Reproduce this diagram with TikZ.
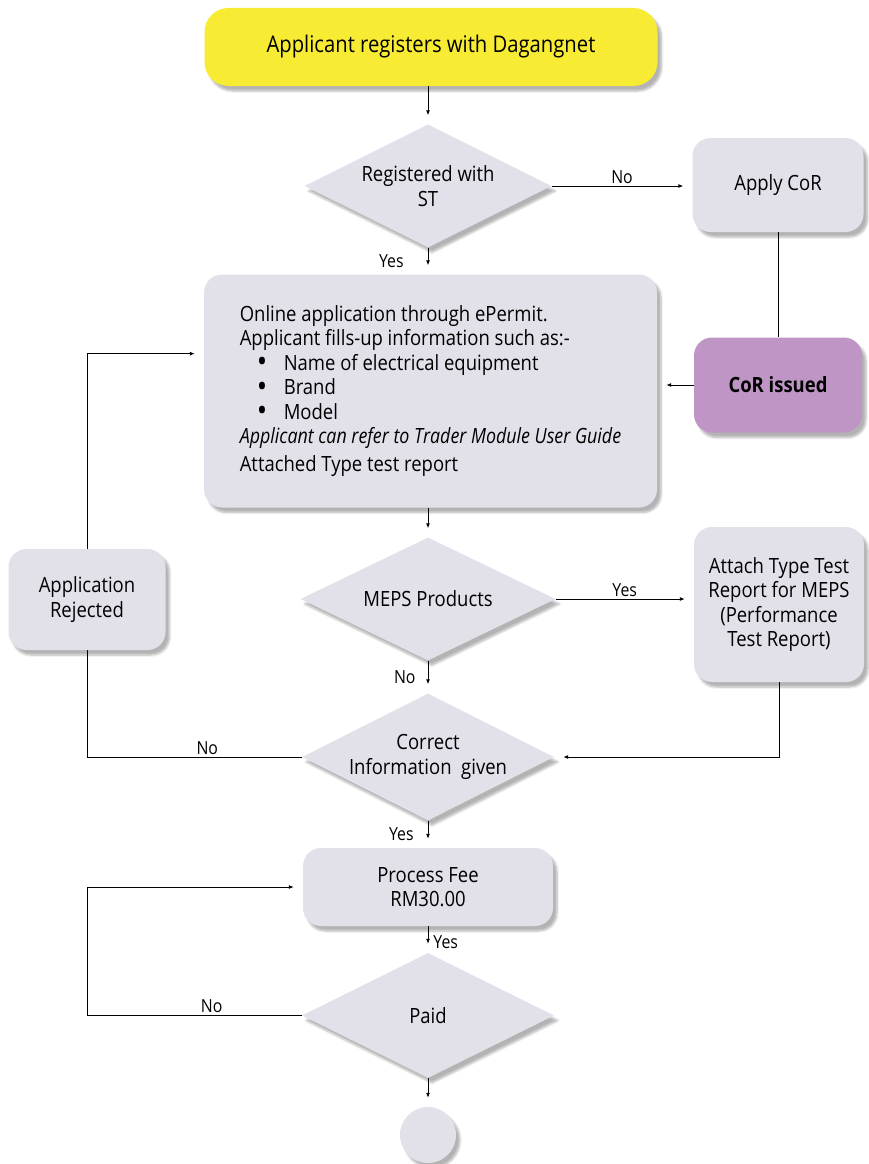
\documentclass[tikz,border=0pt]{standalone}
\usepackage{fontspec}
\setmainfont[FakeStretch=0.88,ItalicFeatures={FakeStretch=0.85}]{Open Sans}
\usetikzlibrary{positioning,calc,shapes.geometric,shadows.blur,arrows.meta}
\definecolor{boxgray}{RGB}{226,225,234}
\definecolor{startyellow}{RGB}{247,235,52}
\definecolor{corpurple}{RGB}{191,149,198}
\newcommand{\bul}{\hspace*{17pt}\makebox[27pt][l]{\raisebox{-2.5pt}[0pt][0pt]{\scalebox{1.5}{\textbullet}}}}

\begin{document}
\begin{tikzpicture}[x=1pt,y=-1pt,
	softshadow/.style={
		blur shadow={shadow xshift=4pt,shadow yshift=-5pt,shadow blur steps=6,shadow opacity=30}
	},
	procbox/.style={
		rectangle, rounded corners=18pt, fill=boxgray, align=center,
		font=\fontsize{21}{24.5}\selectfont, inner sep=0pt, softshadow
	},
	decision/.style={
		diamond, aspect=2, fill=boxgray, align=center,
		font=\fontsize{21}{24.5}\selectfont, inner sep=0pt, softshadow
	},
	flowarrow/.style={-{Latex[length=5pt,width=4pt]}, line width=0.9pt, shorten >=9pt},
	flowline/.style={line width=0.9pt},
	lbl/.style={font=\fontsize{18}{20}\selectfont, inner sep=2pt}
]
	\useasboundingbox (0,0) rectangle (868,1164);

	% boxes and decisions
	\node[procbox, fill=startyellow, rounded corners=24pt, font=\fontsize{23}{26}\selectfont,
		minimum width=453pt, minimum height=78pt] (start) at (431,47) {Applicant registers with Dagangnet};
	\node[decision, minimum width=247pt, minimum height=123pt] (regst) at (428,186) {Registered with\\ST};
	\node[procbox, minimum width=171pt, minimum height=94pt] (applycor) at (778,185) {Apply CoR};
	\node[procbox, fill=corpurple, font=\fontsize{21}{24.5}\selectfont\bfseries,
		minimum width=168pt, minimum height=95pt] (corissued) at (778,385) {CoR issued};
	\node[procbox, align=left, minimum width=453pt, minimum height=233pt] (online) at (430.5,391) {%
		Online application through ePermit.\\
		Applicant fills-up information such as:-\\
		\bul Name of electrical equipment\\
		\bul Brand\\
		\bul Model\\
		\textit{Applicant can refer to Trader Module User Guide}\\[3pt]
		Attached Type test report};
	\node[decision, minimum width=255pt, minimum height=123pt] (meps) at (428,599) {MEPS Products};
	\node[procbox, minimum width=170pt, minimum height=155pt] (attach) at (779,604.5) {Attach Type Test\\Report for MEPS\\(Performance\\Test Report)};
	\node[decision, minimum width=252pt, minimum height=127pt] (correct) at (428,757) {Correct\\Information\ \ given};
	\node[procbox, minimum width=157pt, minimum height=101pt] (rejected) at (87,599.5) {Application\\Rejected};
	\node[procbox, minimum width=250pt, minimum height=78pt] (fee) at (428,887) {Process Fee\\RM30.00};
	\node[decision, minimum width=252pt, minimum height=125pt] (paid) at (428,1015.5) {Paid};
	\node[circle, fill=boxgray, minimum size=56pt, softshadow] (finish) at (428,1135) {};

	% connectors
	\draw[flowarrow] (regst.north |- start.south) -- (regst.north);
	\draw[flowarrow] (regst.east) -- node[lbl, above] {No} (regst.east -| applycor.west);
	\draw[flowarrow] (regst.south) -- node[lbl, left=22pt] {Yes} (regst.south |- online.north);
	\draw[flowline] (applycor.south) -- (corissued.north);
	\draw[flowarrow] (corissued.west) -- (corissued.west -| online.east);
	\draw[flowarrow] (meps.north |- online.south) -- (meps.north);
	\draw[flowarrow] (meps.east) -- node[lbl, above] {Yes} (meps.east -| attach.west);
	\draw[flowarrow] (meps.south) -- node[lbl, left=10pt] {No} (correct.north);
	\draw[flowarrow] (attach.south) |- (correct.east);
	\draw[flowline] (correct.west) -| node[lbl, above, pos=0.22] {No} (rejected.south);
	\draw[flowarrow] (rejected.north) |- ($(online.north west)!0.34!(online.south west)$);
	\draw[flowarrow] (correct.south) -- node[lbl, left=12pt] {Yes} (fee.north);
	\draw[flowarrow] (fee.south) -- node[lbl, right=3pt, pos=0.6] {Yes} (paid.north);
	\draw[flowarrow] (paid.west) -- node[lbl, above, pos=0.42] {No} (paid.west -| rejected.south) |- (fee.west);
	\draw[flowarrow] (paid.south) -- (finish.north);
\end{tikzpicture}
\end{document}
